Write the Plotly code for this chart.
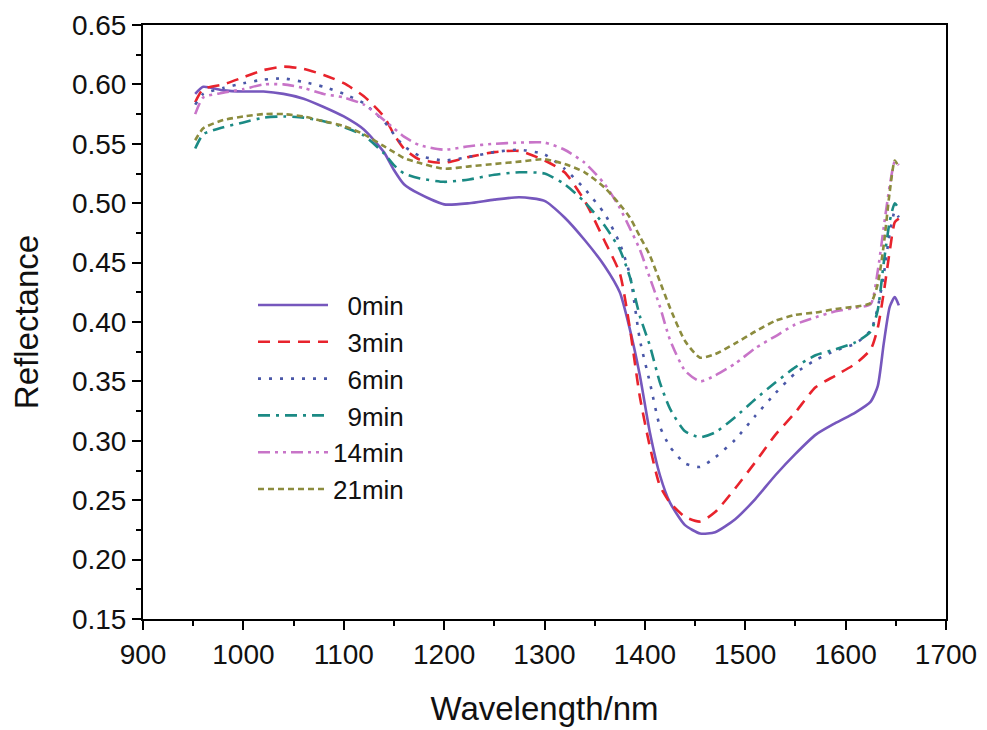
import plotly.graph_objects as go

wavelength = [952, 960, 980, 1000, 1020, 1040, 1060, 1080, 1100, 1120, 1140, 1150, 1160, 1175,
              1200, 1225, 1250, 1275, 1300, 1320, 1340, 1360, 1375, 1385, 1395, 1405, 1415, 1425,
              1440, 1455, 1470, 1490, 1510, 1530, 1550, 1570, 1590, 1610, 1625, 1632, 1638, 1644,
              1649, 1653]

r_0min = [0.592, 0.598, 0.595, 0.594, 0.594, 0.592, 0.588, 0.581, 0.573, 0.562, 0.543, 0.528, 0.516, 0.508,
          0.499, 0.500, 0.503, 0.505, 0.502, 0.488, 0.469, 0.447, 0.425, 0.394, 0.355, 0.307, 0.271, 0.248,
          0.229, 0.222, 0.223, 0.234, 0.251, 0.271, 0.289, 0.305, 0.315, 0.324, 0.333, 0.346, 0.382, 0.413,
          0.421, 0.414]
r_3min = [0.585, 0.596, 0.600, 0.606, 0.612, 0.615, 0.613, 0.608, 0.601, 0.590, 0.573, 0.558, 0.546, 0.537,
          0.534, 0.539, 0.543, 0.544, 0.536, 0.526, 0.502, 0.468, 0.441, 0.395, 0.337, 0.295, 0.262, 0.248,
          0.236, 0.232, 0.240, 0.260, 0.282, 0.305, 0.324, 0.345, 0.355, 0.365, 0.377, 0.395, 0.425, 0.460,
          0.484, 0.487]
r_6min = [0.583, 0.592, 0.597, 0.601, 0.604, 0.605, 0.602, 0.598, 0.592, 0.584, 0.569, 0.558, 0.548, 0.540,
          0.536, 0.539, 0.543, 0.545, 0.541, 0.529, 0.512, 0.491, 0.466, 0.440, 0.385, 0.349, 0.312, 0.295,
          0.281, 0.278, 0.286, 0.301, 0.321, 0.340, 0.357, 0.368, 0.376, 0.382, 0.393, 0.412, 0.440, 0.475,
          0.493, 0.488]
r_9min = [0.546, 0.558, 0.564, 0.568, 0.572, 0.573, 0.572, 0.569, 0.564, 0.557, 0.542, 0.532, 0.525, 0.521,
          0.518, 0.520, 0.524, 0.526, 0.525, 0.516, 0.501, 0.481, 0.461, 0.438, 0.405, 0.380, 0.349, 0.327,
          0.308, 0.303, 0.307, 0.320, 0.335, 0.349, 0.362, 0.372, 0.377, 0.383, 0.392, 0.410, 0.450, 0.485,
          0.500, 0.495]
r_14min = [0.575, 0.589, 0.593, 0.596, 0.600, 0.600, 0.597, 0.592, 0.589, 0.583, 0.570, 0.563, 0.556, 0.549,
           0.545, 0.548, 0.550, 0.551, 0.551, 0.545, 0.534, 0.516, 0.496, 0.479, 0.461, 0.437, 0.413, 0.385,
           0.359, 0.350, 0.355, 0.365, 0.378, 0.388, 0.398, 0.404, 0.409, 0.412, 0.415, 0.443, 0.480, 0.515,
           0.535, 0.532]
r_21min = [0.553, 0.563, 0.570, 0.573, 0.575, 0.575, 0.573, 0.569, 0.565, 0.558, 0.548, 0.543, 0.538, 0.534,
           0.529, 0.531, 0.533, 0.535, 0.537, 0.533, 0.526, 0.513, 0.499, 0.488, 0.472, 0.456, 0.434, 0.412,
           0.384, 0.370, 0.373, 0.382, 0.392, 0.401, 0.406, 0.408, 0.411, 0.413, 0.416, 0.432, 0.465, 0.510,
           0.536, 0.530]

series_names = ["\u20070min", "\u20073min", "\u20076min", "\u20079min", "14min", "21min"]
series_values = [r_0min, r_3min, r_6min, r_9min, r_14min, r_21min]
colors = ["#7657bd", "#e8232c", "#4a57a8", "#1b8a84", "#c874c8", "#8c8c3e"]
dashes = ["solid", "12px,8px", "3px,8px", "12px,6px,3px,6px", "12px,5px,3px,5px,3px,5px", "6px,4px"]

FONT = "Liberation Sans, Arial, sans-serif"

fig = go.Figure()
for name, vals, col, dash in zip(series_names, series_values, colors, dashes):
    fig.add_trace(go.Scatter(
        x=wavelength, y=vals, mode="lines", name=name,
        line=dict(color=col, width=2.6, dash=dash, shape="spline", smoothing=0.6),
    ))

# page body adds an 8px offset, so the figure is sized 979x722 with shifted margins
fig.update_layout(
    width=979, height=722,
    paper_bgcolor="white", plot_bgcolor="white",
    margin=dict(l=135, r=41, t=17, b=111),
    font=dict(family=FONT, size=28, color="#111111"),
    showlegend=True,
    legend=dict(
        x=0.137, y=0.568, xanchor="left", yanchor="top",
        bgcolor="rgba(0,0,0,0)", borderwidth=0,
        font=dict(family=FONT, size=26, color="#111111"),
        itemwidth=70, tracegroupgap=0,
    ),
    xaxis=dict(
        range=[900, 1700], dtick=100, tick0=900, automargin=False,
        showline=True, linecolor="black", linewidth=2, mirror=True,
        ticks="outside", ticklen=9, tickwidth=2, tickcolor="black",
        minor=dict(dtick=50, ticks="outside", ticklen=5, tickwidth=1.5, tickcolor="black"),
        showgrid=False, zeroline=False,
        tickfont=dict(family=FONT, size=28),
        title=dict(text="Wavelength/nm", font=dict(family=FONT, size=33), standoff=28),
    ),
    yaxis=dict(
        range=[0.15, 0.65], dtick=0.05, tick0=0.15, tickformat=".2f", automargin=False,
        showline=True, linecolor="black", linewidth=2, mirror=True,
        ticks="outside", ticklen=9, tickwidth=2, tickcolor="black",
        minor=dict(dtick=0.025, ticks="outside", ticklen=5, tickwidth=1.5, tickcolor="black"),
        showgrid=False, zeroline=False,
        tickfont=dict(family=FONT, size=28),
        title=dict(text="Reflectance", font=dict(family=FONT, size=33), standoff=23),
    ),
    yaxis2=dict(
        range=[0.15, 0.65], dtick=0.05, tick0=0.15, overlaying="y", side="right", automargin=False,
        showline=False, showticklabels=False,
        ticks="inside", ticklen=9, tickwidth=2, tickcolor="black",
        minor=dict(dtick=0.025, ticks="inside", ticklen=5, tickwidth=1.5, tickcolor="black"),
        showgrid=False, zeroline=False,
    ),
)

fig.write_html("out.html")
